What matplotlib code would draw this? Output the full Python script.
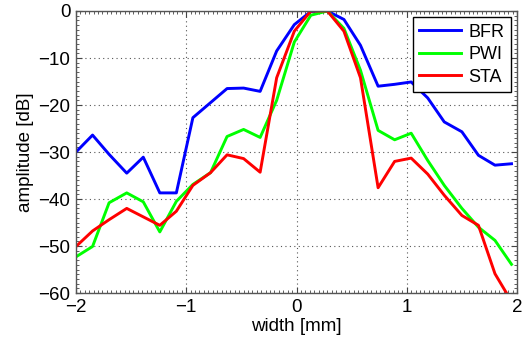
import matplotlib
matplotlib.use("Agg")
import matplotlib.pyplot as plt
from matplotlib.ticker import MultipleLocator


OUT_FILE = "out.png"

# lateral positions [mm]
WIDTH_MM = [
    -2.00, -1.85, -1.70, -1.54, -1.39, -1.24, -1.09, -0.94, -0.78,
    -0.63, -0.48, -0.33, -0.18, -0.02, 0.13, 0.28, 0.43, 0.58,
    0.74, 0.89, 1.04, 1.19, 1.34, 1.50, 1.65, 1.80, 1.95,
]

# amplitude [dB] per method
BFR = [
    -30.0, -26.4, -30.5, -34.5, -31.1, -38.7, -38.7, -22.7, -19.5,
    -16.5, -16.4, -17.1, -8.5, -2.9, -0.1, 0.0, -1.8, -7.3,
    -16.0, -15.6, -15.1, -18.5, -23.6, -25.7, -30.7, -32.8, -32.5,
]
PWI = [
    -52.3, -50.1, -40.8, -38.7, -40.6, -47.0, -40.5, -36.9, -34.4,
    -26.7, -25.2, -26.9, -19.0, -6.6, -0.9, 0.0, -3.7, -12.6,
    -25.4, -27.4, -26.0, -31.8, -37.1, -42.0, -46.0, -48.8, -53.9,
]
STA = [
    -50.1, -46.8, -44.4, -42.0, -43.8, -45.6, -42.6, -37.1, -34.4,
    -30.6, -31.4, -34.3, -14.2, -4.3, 0.0, 0.0, -4.3, -14.2,
    -37.6, -32.0, -31.3, -34.7, -39.2, -43.5, -45.6, -55.9, -61.8,
]

SERIES = [("BFR", BFR, "#0000ff"), ("PWI", PWI, "#00ff00"), ("STA", STA, "#ff0000")]


def main():
    plt.rcParams["font.family"] = ["Liberation Sans", "DejaVu Sans"]
    plt.rcParams["font.size"] = 13.5

    fig = plt.figure(figsize=(5.25, 3.47), dpi=100)
    ax = fig.add_axes([0.1448, 0.1556, 0.84, 0.8127])

    for name, values, color in SERIES:
        ax.plot(WIDTH_MM, values, color=color, linewidth=2.1, label=name)

    ax.set_xlim(-2, 2)
    ax.set_ylim(-60, 0)
    ax.xaxis.set_major_locator(MultipleLocator(1))
    ax.yaxis.set_major_locator(MultipleLocator(10))
    ax.xaxis.set_minor_locator(MultipleLocator(0.04))
    ax.yaxis.set_minor_locator(MultipleLocator(1))

    ax.tick_params(which="both", direction="in", top=True, right=True, colors="#444444",
                   labelcolor="black", pad=4)
    ax.tick_params(which="major", length=4, width=0.8)
    ax.tick_params(which="minor", length=2, width=0.6)
    for spine in ax.spines.values():
        spine.set_color("#555555")
        spine.set_linewidth(1.0)

    ax.grid(True, which="major", linestyle=(0, (1, 3)), color="#555555", linewidth=0.8)

    ax.set_xlabel("width [mm]", labelpad=2)
    ax.set_ylabel("amplitude [dB]", labelpad=3)

    leg = ax.legend(loc="upper right", fancybox=False, framealpha=1, edgecolor="black",
                    borderaxespad=0.36, handlelength=2.3, handletextpad=0.4,
                    labelspacing=0.3, borderpad=0.35, fontsize=13)
    leg.get_frame().set_linewidth(1.0)

    fig.savefig(OUT_FILE, dpi=100)
    plt.close(fig)


if __name__ == "__main__":
    main()
